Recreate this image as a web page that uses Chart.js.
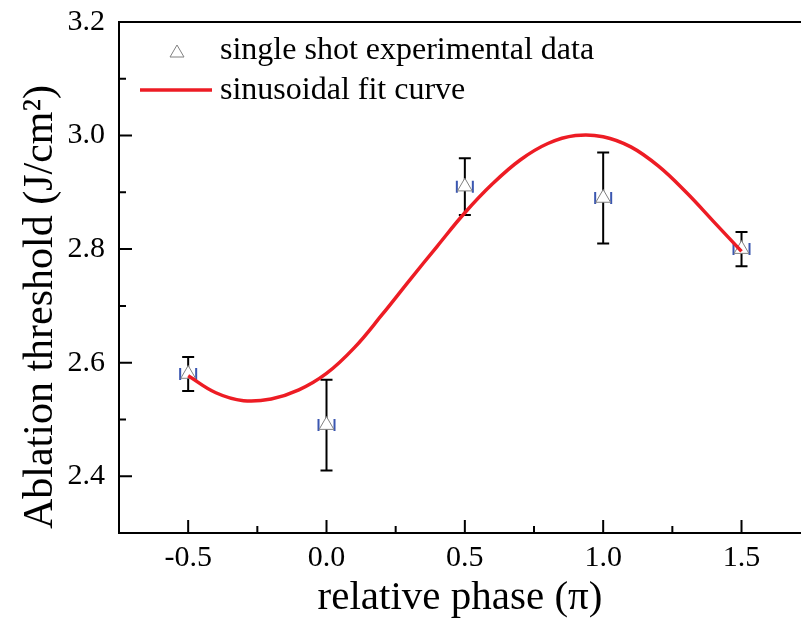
<!DOCTYPE html>
<html>
<head>
<meta charset="utf-8">
<script src="https://cdn.jsdelivr.net/npm/chart.js@4.4.1/dist/chart.umd.min.js"></script>
<style>
  body { margin: 0; background: #fff; overflow: hidden; }
  canvas { display: block; }
</style>
</head>
<body>
<canvas id="phaseChart" width="801" height="623"></canvas>
<script>
////Measured points (relative phase in units of pi)
const phaseX = [-0.5, 0.0, 0.5, 1.0, 1.5];
const thresholdY = [2.58, 2.49, 2.91, 2.89, 2.80];
const thresholdErr = [0.03, 0.08, 0.05, 0.08, 0.03];

////Fit curve
const curveX = [-0.5, -0.4, -0.3, -0.2, -0.1, 0.0, 0.1, 0.2, 0.3, 0.4, 0.5,
                0.6, 0.7, 0.8, 0.9, 1.0, 1.1, 1.2, 1.3, 1.4, 1.5];
const curveY = [2.577, 2.547, 2.533, 2.536, 2.552, 2.581, 2.626, 2.684, 2.745, 2.805, 2.864,
                2.915, 2.957, 2.986, 3.000, 2.998, 2.980, 2.946, 2.900, 2.848, 2.796];

////Ticks (major ones get a label)
const xTickValues = [-0.75, -0.5, -0.25, 0.0, 0.25, 0.5, 0.75, 1.0, 1.25, 1.5];
const xTickLabels = ["-0.5", "0.0", "0.5", "1.0", "1.5"];
const yTickValues = [2.3, 2.4, 2.5, 2.6, 2.7, 2.8, 2.9, 3.0, 3.1, 3.2];
const yTickLabels = ["2.4", "2.6", "2.8", "3.0", "3.2"];

const seriesNames = ["single shot experimental data", "sinusoidal fit curve"];

const FONT = "'Liberation Serif', 'Times New Roman', serif";
const RED = "#ed1c24";

//error bars + blue caps under the triangles
const errorBars = {
    id: 'errorBars',
    beforeDatasetsDraw(chart) {
        const ctx = chart.ctx;
        const xs = chart.scales.x, ys = chart.scales.y;
        ctx.save();
        for (let i = 0; i < phaseX.length; i++) {
            let px = xs.getPixelForValue(phaseX[i]);
            let top = ys.getPixelForValue(thresholdY[i] + thresholdErr[i]);
            let bot = ys.getPixelForValue(thresholdY[i] - thresholdErr[i]);
            let py = ys.getPixelForValue(thresholdY[i]);
            ctx.strokeStyle = '#000';
            ctx.lineWidth = 2;
            ctx.beginPath();
            ctx.moveTo(px, top); ctx.lineTo(px, bot);
            ctx.moveTo(px - 6, top); ctx.lineTo(px + 6, top);
            ctx.moveTo(px - 6, bot); ctx.lineTo(px + 6, bot);
            ctx.stroke();
            //blue x caps
            ctx.strokeStyle = '#3a56b0';
            ctx.lineWidth = 2;
            ctx.beginPath();
            ctx.moveTo(px - 8, py - 6); ctx.lineTo(px - 8, py + 6);
            ctx.moveTo(px + 8, py - 6); ctx.lineTo(px + 8, py + 6);
            ctx.stroke();
        }
        ctx.restore();
    }
};

//inward ticks, top border, legend and y title
const frame = {
    id: 'frame',
    afterDraw(chart) {
        const ctx = chart.ctx;
        const a = chart.chartArea;
        const xs = chart.scales.x, ys = chart.scales.y;
        ctx.save();
        ctx.strokeStyle = '#000';
        ctx.lineWidth = 2;
        ctx.beginPath();
        ctx.moveTo(a.left, a.top); ctx.lineTo(a.right, a.top);
        for (let v of xTickValues) {
            let px = xs.getPixelForValue(v);
            let len = (Math.abs(v * 2 - Math.round(v * 2)) < 1e-6) ? 13 : 7;
            ctx.moveTo(px, a.bottom); ctx.lineTo(px, a.bottom - len);
        }
        for (let v of yTickValues) {
            let py = ys.getPixelForValue(v);
            let len = (Math.round(v * 10) % 2 === 0) ? 13 : 7;
            ctx.moveTo(a.left, py); ctx.lineTo(a.left + len, py);
        }
        ctx.stroke();

        //legend
        ctx.font = "32px " + FONT;
        ctx.fillStyle = '#000';
        ctx.textBaseline = 'middle';
        ctx.textAlign = 'left';
        ctx.fillText(seriesNames[0], 220, 51);
        ctx.fillText(seriesNames[1], 220, 91);
        ctx.strokeStyle = '#808080';
        ctx.lineWidth = 1;
        ctx.beginPath();
        ctx.moveTo(177, 45); ctx.lineTo(184, 57); ctx.lineTo(170, 57); ctx.closePath();
        ctx.stroke();
        ctx.strokeStyle = RED;
        ctx.lineWidth = 3.5;
        ctx.beginPath();
        ctx.moveTo(140, 90); ctx.lineTo(212, 90);
        ctx.stroke();

        //y title
        ctx.translate(41, 307);
        ctx.rotate(-Math.PI / 2);
        ctx.textAlign = 'center';
        ctx.font = "42px " + FONT;
        ctx.fillText("Ablation threshold (J/cm\u00B2)", 0, 0);
        ctx.restore();
    }
};

const ctx = document.getElementById("phaseChart").getContext('2d');
const phaseChart = new Chart(ctx, {
    data: {
        datasets: [{
            type: 'line',
            label: seriesNames[1],
            data: curveX.map((x, i) => ({x: x, y: curveY[i]})),
            borderColor: RED,
            borderWidth: 3.5,
            pointRadius: 0,
            tension: 0.4,
            fill: false,
            order: 0
        }, {
            type: 'scatter',
            label: seriesNames[0],
            data: phaseX.map((x, i) => ({x: x, y: thresholdY[i]})),
            pointStyle: 'triangle',
            pointRadius: 8.5,
            backgroundColor: '#fff',
            borderColor: '#808080',
            borderWidth: 1,
            order: 1
        }]
    },
    options: {
        responsive: false,
        animation: false,
        layout: { autoPadding: false, padding: { top: 22, right: 0, left: 0, bottom: 0 } },
        plugins: { legend: { display: false }, tooltip: { enabled: false } },
        scales: {
            x: {
                type: 'linear',
                min: -0.75,
                max: 1.715,
                grid: { display: false, drawTicks: false },
                border: { display: true, color: '#000', width: 2 },
                afterBuildTicks: s => { s.ticks = xTickValues.map(v => ({ value: v })); },
                ticks: {
                    padding: 7,
                    color: '#000',
                    font: { size: 30, family: FONT },
                    maxRotation: 0,
                    autoSkip: false,
                    callback: v => {
                        let i = xTickLabels.indexOf(Number(v).toFixed(1));
                        return (Math.abs(v * 2 - Math.round(v * 2)) < 1e-6 && i >= 0) ? xTickLabels[i] : '';
                    }
                },
                title: {
                    display: true,
                    text: 'relative phase (\u03C0)',
                    color: '#000',
                    font: { size: 41, family: FONT },
                    padding: { top: 0, bottom: 0 }
                },
                afterFit: s => { s.height = 90; s.paddingLeft = 0; s.paddingRight = 0; }
            },
            y: {
                min: 2.3,
                max: 3.2,
                grid: { display: false, drawTicks: false },
                border: { display: true, color: '#000', width: 2 },
                afterBuildTicks: s => { s.ticks = yTickValues.map(v => ({ value: v })); },
                ticks: {
                    padding: 14,
                    color: '#000',
                    font: { size: 30, family: FONT },
                    autoSkip: false,
                    callback: v => {
                        let i = yTickLabels.indexOf(Number(v).toFixed(1));
                        return i >= 0 ? yTickLabels[i] : '';
                    }
                },
                afterFit: s => { s.width = 119; s.paddingTop = 0; s.paddingBottom = 0; }
            }
        }
    },
    plugins: [errorBars, frame]
});
</script>
</body>
</html>
